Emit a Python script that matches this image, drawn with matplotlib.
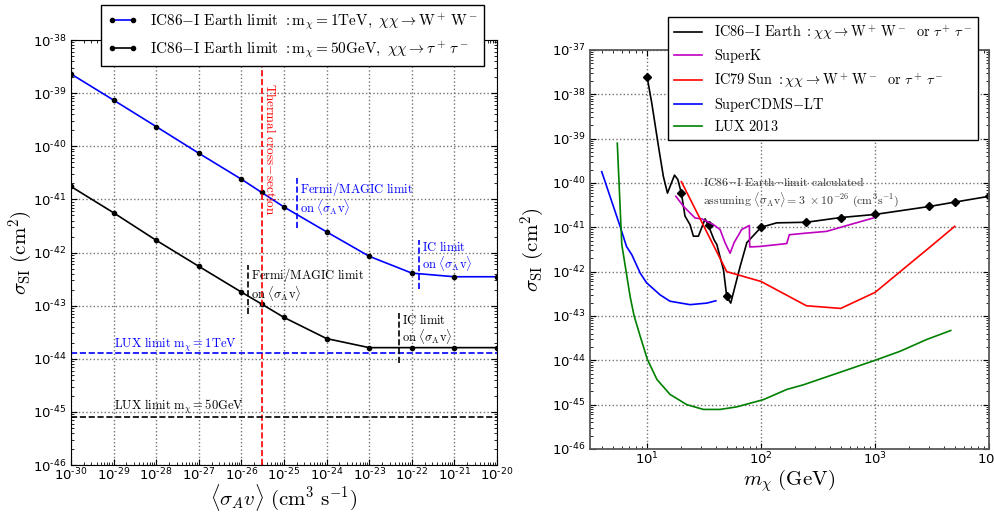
import math
import matplotlib
matplotlib.use('Agg')
import matplotlib.pyplot as plt
from matplotlib.font_manager import FontProperties
from matplotlib.ticker import LogLocator, FuncFormatter

plt.rcParams['axes.unicode_minus'] = False

# ---- left panel: IC86-I Earth limit vs <sigma_A v> ----
sigv = [1e-30, 1e-29, 1e-28, 1e-27, 1e-26, 3e-26, 1e-25, 1e-24, 1e-23, 1e-22, 1e-21, 1e-20]
sig_1tev = [2.3e-39, 7.4e-40, 2.35e-40, 7.4e-41, 2.4e-41, 1.35e-41, 7.2e-42,
            2.45e-42, 8.5e-43, 4.1e-43, 3.5e-43, 3.5e-43]
sig_50gev = [1.75e-41, 5.6e-42, 1.7e-42, 5.5e-43, 1.8e-43, 1.07e-43, 6.0e-44,
             2.4e-44, 1.62e-44, 1.62e-44, 1.62e-44, 1.62e-44]
lux_1tev = 1.26e-44
lux_50gev = 7.9e-46
thermal = 3e-26
fermi_1tev = 2e-25
ic_1tev = 1.5e-22
fermi_50gev = 1.4e-26
ic_50gev = 5e-23

# ---- right panel: sigma_SI vs m_chi ----
ic86_m = [10, 11, 12.6, 13.9, 15.1, 17.4, 18.6, 20, 21.5, 23.8, 25.5, 28.2, 32.3, 34.5,
          38.7, 40.9, 46.8, 50, 54.2, 65.5, 75, 100, 137, 250, 500, 1000, 3000, 5000, 10000]
ic86_s = [2.5e-38, 6.3e-39, 6.6e-40, 1.4e-40, 5.9e-41, 1.5e-40, 1.2e-40, 5.9e-41, 1.8e-41,
          1.15e-41, 6.3e-42, 6.3e-42, 1.55e-41, 1.1e-41, 5.2e-42, 4.1e-42, 1.1e-42, 2.75e-43,
          1.95e-43, 1.3e-42, 4.5e-42, 1.0e-41, 1.26e-41, 1.3e-41, 1.66e-41, 1.95e-41,
          2.95e-41, 3.7e-41, 5.0e-41]
ic86_pts_m = [10, 20, 35, 50, 100, 250, 500, 1000, 3000, 5000, 10000]
ic86_pts_s = [2.5e-38, 5.9e-41, 1.1e-41, 2.75e-43, 1.0e-41, 1.3e-41, 1.66e-41, 1.95e-41,
              2.95e-41, 3.7e-41, 5.0e-41]

superk_m = [17.9, 20.9, 26.4, 30.2, 38.2, 43.7, 48.3, 53.5, 58, 67.6, 79, 79.5, 98, 168,
            177, 251, 376, 603, 966]
superk_s = [5.0e-41, 2.95e-41, 1.62e-41, 1.55e-41, 1.15e-41, 8.9e-42, 4.5e-42, 2.6e-42,
            4.5e-42, 8.9e-42, 1.1e-41, 3.6e-42, 3.7e-42, 4.3e-42, 6.8e-42, 7.4e-42, 8.1e-42,
            1.15e-41, 1.62e-41]

ic79_m = [20, 50, 100, 250, 500, 1000, 3000, 5000]
ic79_s = [1.07e-40, 1.0e-42, 6.0e-43, 1.7e-43, 1.48e-43, 3.4e-43, 3.5e-42, 1.05e-41]

cdms_m = [4.0, 4.73, 5.8, 6.6, 7.35, 8.7, 9.9, 13, 15.9, 23.8, 33.4, 40.1]
cdms_s = [1.8e-40, 5.0e-41, 1.05e-41, 3.7e-42, 2.4e-42, 9.3e-43, 5.6e-43, 3.0e-43,
          2.15e-43, 1.8e-43, 1.95e-43, 2.2e-43]

lux_m = [5.48, 6.0, 7.1, 7.7, 8.7, 10.06, 12.2, 15.9, 22.3, 31.2, 43.7, 61.2, 105, 168,
         235, 1000, 1660, 2840, 4610]
lux_s = [7.9e-40, 4.1e-42, 2.75e-43, 1.0e-43, 3.5e-44, 1.05e-44, 3.7e-45, 1.7e-45, 1.0e-45,
         7.8e-46, 7.8e-46, 8.9e-46, 1.3e-45, 2.2e-45, 2.8e-45, 1.0e-44, 1.6e-44, 2.95e-44, 4.7e-44]

cm = 'cm'
sv_txt = r'$\mathrm{on}\ \langle\sigma_\mathrm{A}\mathrm{v}\rangle$'
fermi_txt = r'$\mathrm{Fermi/MAGIC\ limit}$' + '\n' + sv_txt
ic_txt = r'$\mathrm{IC\ limit}$' + '\n' + sv_txt
afs = 9


def log_fmt(v, pos):
    e = int(round(math.log10(v)))
    return r'$\mathdefault{10^{%s}}$' % str(e).replace('-', '\u2010')


fig = plt.figure(figsize=(9.94, 5.14), dpi=100)
ax1 = fig.add_axes([0.0714, 0.0953, 0.4286, 0.8268])
ax2 = fig.add_axes([0.5936, 0.1265, 0.4014, 0.7763])

# left panel
ax1.plot(sigv, sig_1tev, 'b-', lw=1.2, marker='o', ms=3, mfc='k', mec='k',
         label=r'$\mathrm{IC86{-}I\ Earth\ limit\ :m_{\chi}=1TeV},\ \chi\chi\rightarrow\mathrm{W^+\,W^-}$')
ax1.plot(sigv, sig_50gev, 'k-', lw=1.2, marker='o', ms=3, mfc='k', mec='k',
         label=r'$\mathrm{IC86{-}I\ Earth\ limit\ :m_{\chi}=50GeV},\ \chi\chi\rightarrow\tau^+\,\tau^-$')
ax1.axvline(thermal, color='r', ls='--', lw=1.2)
ax1.axhline(lux_1tev, color='b', ls='--', lw=1.2)
ax1.axhline(lux_50gev, color='k', ls='--', lw=1.2)
ax1.axvline(fermi_1tev, ymin=0.558, ymax=0.675, color='b', ls='--', lw=1.2)
ax1.axvline(ic_1tev, ymin=0.414, ymax=0.529, color='b', ls='--', lw=1.2)
ax1.axvline(fermi_50gev, ymin=0.355, ymax=0.471, color='k', ls='--', lw=1.2)
ax1.axvline(ic_50gev, ymin=0.24, ymax=0.358, color='k', ls='--', lw=1.2)

ax1.text(3.3e-26, 1.55e-39, r'$\mathrm{Thermal\ cross{-}section}$', color='r', rotation=270,
         ha='left', va='top', fontsize=9.5, math_fontfamily=cm)
ax1.text(2.4e-25, 2.3e-41, fermi_txt, color='b', ha='left', va='top', fontsize=afs,
         linespacing=1.0, math_fontfamily=cm)
ax1.text(1.74e-22, 1.7e-42, ic_txt, color='b', ha='left', va='top', fontsize=afs,
         linespacing=1.0, math_fontfamily=cm)
ax1.text(1.68e-26, 5.5e-43, fermi_txt, color='k', ha='left', va='top', fontsize=afs,
         linespacing=1.0, math_fontfamily=cm)
ax1.text(5.9e-23, 7.2e-44, ic_txt, color='k', ha='left', va='top', fontsize=afs,
         linespacing=1.0, math_fontfamily=cm)
ax1.text(1e-29, lux_1tev * 1.3, r'$\mathrm{LUX\ limit\ m_{\chi}=1TeV}$', color='b',
         ha='left', va='baseline', fontsize=afs, math_fontfamily=cm)
ax1.text(1e-29, lux_50gev * 1.4, r'$\mathrm{LUX\ limit\ m_{\chi}=50GeV}$', color='k',
         ha='left', va='baseline', fontsize=afs, math_fontfamily=cm)

ax1.set_xscale('log')
ax1.set_yscale('log')
ax1.set_xlim(1e-30, 1e-20)
ax1.set_ylim(1e-46, 1e-38)
ax1.set_xlabel(r'$\langle\sigma_A v\rangle\ (\mathrm{cm}^3\ \mathrm{s}^{-1})$', fontsize=15,
               math_fontfamily=cm, labelpad=-1)
ax1.set_ylabel(r'$\sigma_{\mathrm{SI}}\ (\mathrm{cm}^2)$', fontsize=15, math_fontfamily=cm)
ax1.yaxis.set_label_coords(-0.085, 0.5)

leg1 = ax1.legend(loc='upper left', bbox_to_anchor=(101 / 994, 1 - 5 / 514),
                  bbox_transform=fig.transFigure, borderaxespad=0, fancybox=False,
                  edgecolor='k', framealpha=1, numpoints=2, handlelength=2,
                  labelspacing=0.45, prop=FontProperties(size=11, math_fontfamily=cm))
leg1.get_frame().set_linewidth(1)

# right panel
ax2.plot(ic86_m, ic86_s, 'k-', lw=1.2,
         label=r'$\mathrm{IC86{-}I\ Earth\ :}\chi\chi\rightarrow\mathrm{W^+\,W^-\ \ or\ }\tau^+\,\tau^-$')
ax2.plot(ic86_pts_m, ic86_pts_s, 'kD', ms=4)
ax2.plot(superk_m, superk_s, 'm-', lw=1.2, label=r'$\mathrm{SuperK}$')
ax2.plot(ic79_m, ic79_s, 'r-', lw=1.2,
         label=r'$\mathrm{IC79\ Sun\ :}\chi\chi\rightarrow\mathrm{W^+\,W^-\ \ or\ }\tau^+\,\tau^-$')
ax2.plot(cdms_m, cdms_s, 'b-', lw=1.2, label=r'$\mathrm{SuperCDMS{-}LT}$')
ax2.plot(lux_m, lux_s, '-', color='g', lw=1.2, label=r'$\mathrm{LUX\ 2013}$')

ax2.text(31, 1.45e-40, r'$\mathrm{IC86{-}I\ Earth{-}limit\ calculated}$' + '\n' +
         r'$\mathrm{assuming}\ \langle\sigma_\mathrm{A}\mathrm{v}\rangle=3\ \times10^{-26}\ (\mathrm{cm^3 s^{-1}})$',
         color='0.2', ha='left', va='top', fontsize=8.5, linespacing=1.1, math_fontfamily=cm)

ax2.set_xscale('log')
ax2.set_yscale('log')
ax2.set_xlim(3.16, 1e4)
ax2.set_ylim(1e-46, 1e-37)
ax2.set_xlabel(r'$m_\chi\ (\mathrm{GeV})$', fontsize=15, math_fontfamily=cm, labelpad=0)
ax2.set_ylabel(r'$\sigma_{\mathrm{SI}}\ (\mathrm{cm}^2)$', fontsize=15, math_fontfamily=cm)
ax2.yaxis.set_label_coords(-0.108, 0.5)

leg2 = ax2.legend(loc='upper left', bbox_to_anchor=(668 / 994, 1 - 17 / 514),
                  bbox_transform=fig.transFigure, borderaxespad=0, fancybox=False,
                  edgecolor='k', framealpha=1, handlelength=2, labelspacing=0.4,
                  prop=FontProperties(size=10.3, math_fontfamily=cm))
leg2.get_frame().set_linewidth(1)

for ax in (ax1, ax2):
    for axis in (ax.xaxis, ax.yaxis):
        axis.set_major_locator(LogLocator(base=10, numticks=20))
        axis.set_minor_locator(LogLocator(base=10, subs=range(2, 10), numticks=20))
        axis.set_major_formatter(FuncFormatter(log_fmt))
    ax.grid(True, which='major', ls=':', color='0.45', lw=1)
    ax.tick_params(which='both', direction='in', top=True, right=True, labelsize=9.5)
    ax.tick_params(which='major', length=4)
    ax.tick_params(which='minor', length=2)
    ax.tick_params(axis='x', pad=1.5)
for s in ax2.spines.values():
    s.set_color('0.35')
    s.set_linewidth(1.3)

fig.savefig('out.png', dpi=100)
